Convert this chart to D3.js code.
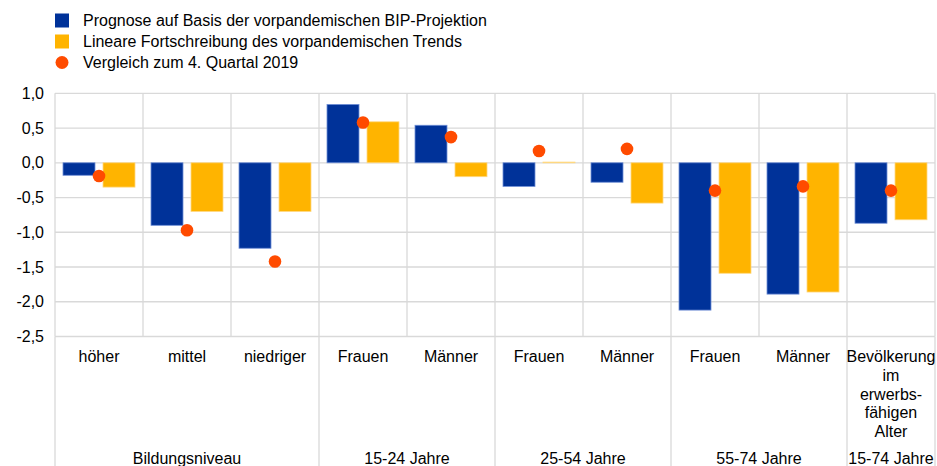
<!DOCTYPE html>
<html><head><meta charset="utf-8">
<script src="https://cdn.jsdelivr.net/npm/d3@7"></script>
<style>body{margin:0;background:#fff;} text{font-family:"Liberation Sans",Arial,sans-serif;fill:#000;}</style>
</head><body><svg id="c" width="937" height="466"></svg>
<script>
const categories = ["höher","mittel","niedriger","Frauen","Männer","Frauen","Männer","Frauen","Männer","Bevölkerung im erwerbs- fähigen Alter"];
const categoryLines = [["höher"],["mittel"],["niedriger"],["Frauen"],["Männer"],["Frauen"],["Männer"],["Frauen"],["Männer"],["Bevölkerung","im","erwerbs-","fähigen","Alter"]];
const groups = [{name:"Bildungsniveau",from:0,to:3},{name:"15-24 Jahre",from:3,to:5},{name:"25-54 Jahre",from:5,to:7},{name:"55-74 Jahre",from:7,to:9},{name:"15-74 Jahre",from:9,to:10}];
const prognose = [-0.18,-0.90,-1.23,0.84,0.54,-0.34,-0.28,-2.12,-1.89,-0.87];
const trend = [-0.35,-0.70,-0.70,0.59,-0.20,0.01,-0.58,-1.59,-1.86,-0.82];
const vergleich = [-0.19,-0.97,-1.42,0.58,0.37,0.17,0.20,-0.40,-0.34,-0.40];
const yTicks = [1.0,0.5,0.0,-0.5,-1.0,-1.5,-2.0,-2.5];
const seriesNames = ["Prognose auf Basis der vorpandemischen BIP-Projektion","Lineare Fortschreibung des vorpandemischen Trends","Vergleich zum 4. Quartal 2019"];
const colors = ["#003299","#FFB400","#FF4B00"];

const svg = d3.select("#c");
const L=55, R=935, T=93.3, B=336.5;
const FS = "16px";
const x = d3.scaleBand().domain(d3.range(categories.length)).range([L,R]).paddingInner(0).paddingOuter(0);
const y = d3.scaleLinear().domain([-2.5,1.0]).range([B,T]);
const sub = d3.scaleBand().domain([0,1]).range([0,x.bandwidth()]).paddingInner(0.2).paddingOuter(0.2);
const fmt = v => d3.format(".1f")(v).replace(".",",").replace("−","-");

svg.append("g").selectAll("line").data(yTicks).join("line")
  .attr("x1",L).attr("x2",R).attr("y1",d=>y(d)).attr("y2",d=>y(d))
  .attr("stroke","#d9d9d9").attr("stroke-width",1.3);
svg.append("g").selectAll("line").data(d3.range(categories.length+1)).join("line")
  .attr("x1",i=>i<categories.length?x(i):R).attr("x2",i=>i<categories.length?x(i):R)
  .attr("y1",T).attr("y2",B).attr("stroke","#d9d9d9").attr("stroke-width",1.3);
const seps = groups.map(g=>g.from).concat([categories.length]);
svg.append("g").selectAll("line").data(seps).join("line")
  .attr("x1",i=>i<categories.length?x(i):R).attr("x2",i=>i<categories.length?x(i):R)
  .attr("y1",B).attr("y2",466).attr("stroke","#d9d9d9").attr("stroke-width",1.3);

svg.append("g").selectAll("text").data(yTicks).join("text")
  .attr("x",44).attr("y",d=>y(d)).attr("dy","0.35em").attr("text-anchor","end")
  .style("font-size",FS).text(fmt);

const data = [prognose,trend];
data.forEach((arr,s)=>{
  svg.append("g").selectAll("rect").data(arr).join("rect")
    .attr("x",(d,i)=>x(i)+sub(s)).attr("width",sub.bandwidth())
    .attr("y",d=>y(Math.max(0,d))).attr("height",d=>Math.abs(y(d)-y(0)))
    .attr("fill",colors[s])
    .attr("stroke",s===0?"#6f8fd6":"#ffd880").attr("stroke-width",0.8);
});
svg.append("g").selectAll("circle").data(vergleich).join("circle")
  .attr("cx",(d,i)=>x(i)+x.bandwidth()/2).attr("cy",d=>y(d)).attr("r",6.3)
  .attr("fill",colors[2]);

const cl = svg.append("g").selectAll("text").data(categoryLines).join("text")
  .attr("text-anchor","middle").style("font-size",FS)
  .attr("transform",(d,i)=>`translate(${x(i)+x.bandwidth()/2},361.5)`);
cl.selectAll("tspan").data(d=>d).join("tspan")
  .attr("x",0).attr("y",(d,j)=>j===0?0:1+j*18.5).text(d=>d);

svg.append("g").selectAll("text").data(groups).join("text")
  .attr("x",g=>(x(g.from)+(g.to<categories.length?x(g.to):R))/2).attr("y",463.5)
  .attr("text-anchor","middle").style("font-size",FS).text(g=>g.name);

const lg = svg.append("g");
seriesNames.forEach((n,i)=>{
  const yy = 20.5 + i*21;
  if(i<2) lg.append("rect").attr("x",55).attr("y",yy-7).attr("width",14).attr("height",14).attr("fill",colors[i]);
  else lg.append("circle").attr("cx",62).attr("cy",yy).attr("r",6.5).attr("fill",colors[i]);
  lg.append("text").attr("x",83).attr("y",yy).attr("dy","0.35em").style("font-size",FS).text(n);
});
</script></body></html>
